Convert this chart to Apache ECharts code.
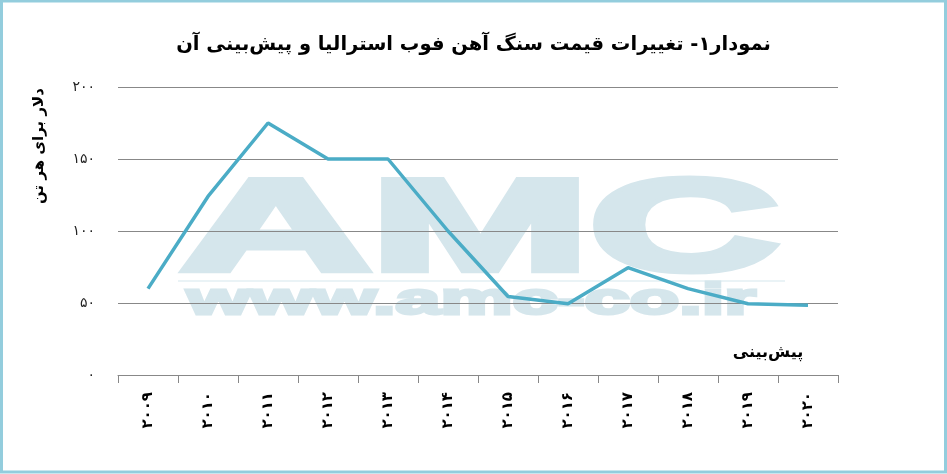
<!DOCTYPE html>
<html>
<head>
<meta charset="utf-8">
<script src="https://cdn.jsdelivr.net/npm/echarts@6/dist/echarts.min.js"></script>
<style>html,body{margin:0;padding:0;background:#fff}#c{width:947px;height:474px}</style>
</head>
<body>
<div id="c"></div>
<script>
var years = ['۲۰۰۹','۲۰۱۰','۲۰۱۱','۲۰۱۲','۲۰۱۳','۲۰۱۴','۲۰۱۵','۲۰۱۶','۲۰۱۷','۲۰۱۸','۲۰۱۹','۲۰۲۰'];
var prices = [60, 124, 175, 150, 150, 100, 54.5, 49.5, 74.5, 60, 49.5, 48.5];
var yTickLabels = {0:'۰', 50:'۵۰', 100:'۱۰۰', 150:'۱۵۰', 200:'۲۰۰'};
var titleText = 'نمودار۱- تغییرات قیمت سنگ آهن فوب استرالیا و پیش‌بینی آن';
var yName = 'دلار برای هر تن';
var forecastText = 'پیش‌بینی';

var chart = echarts.init(document.getElementById('c'), null, {renderer:'canvas'});
var ff = 'DejaVu Sans';
chart.setOption({
  animation: false,
  backgroundColor: '#fff',
  title: {
    text: titleText, left: 'center', top: 30,
    textStyle: {fontFamily: ff, fontWeight: 'bold', fontSize: 19.5, color: '#000'}
  },
  grid: {left: 118, right: 109, top: 87, bottom: 99},
  xAxis: {
    type: 'category', data: years, boundaryGap: true,
    axisLine: {lineStyle: {color: '#888', width: 1}},
    axisTick: {show: true, length: 8, alignWithLabel: false, lineStyle: {color: '#888'}},
    axisLabel: {rotate: 90, margin: 17, fontFamily: ff, fontWeight: 'bold', fontSize: 15, color: '#000', interval: 0}
  },
  yAxis: {
    type: 'value', min: 0, max: 200, interval: 50,
    axisLine: {show: false}, axisTick: {show: false},
    splitLine: {lineStyle: {color: '#888', width: 1}},
    axisLabel: {margin: 23, fontFamily: ff, fontSize: 14, color: '#222',
      formatter: function(v){ return yTickLabels[v]; }}
  },
  series: [{
    type: 'line', data: prices, symbol: 'none', smooth: false, z: 5,
    lineStyle: {color: '#4bacc6', width: 3.5}
  }],
  graphic: [
    {type: 'rect', z: 100, shape: {x: 1.5, y: 1, width: 944, height: 471},
     style: {fill: 'none', stroke: '#93cddd', lineWidth: 3}},
    {type: 'text', z: -10, x: 181, y: 234, scaleX: 2.02, scaleY: 1,
     style: {text: 'AMC', x: 0, y: 0, align: 'left', verticalAlign: 'middle',
       fontFamily: 'Liberation Sans', fontWeight: 'bold', fontSize: 130,
       fill: '#d5e6ec', stroke: '#d5e6ec', lineWidth: 7}},
    {type: 'line', z: -10, shape: {x1: 178, y1: 281, x2: 785, y2: 281},
     style: {stroke: '#eaf3f6', lineWidth: 2}},
    {type: 'text', z: -10, x: 187, y: 302, scaleX: 1.8, scaleY: 1,
     style: {text: 'www.amc-co.ir', x: 0, y: 0, align: 'left', verticalAlign: 'middle',
       fontFamily: 'Liberation Sans', fontWeight: 'bold', fontSize: 45,
       fill: '#d5e6ec', stroke: '#d5e6ec', lineWidth: 3}},
    {type: 'text', z: 10, x: 39, y: 146, rotation: Math.PI / 2,
     style: {text: yName, align: 'center', verticalAlign: 'middle',
       fontFamily: ff, fontWeight: 'bold', fontSize: 15, fill: '#000'}},
    {type: 'text', z: 10, x: 768, y: 353,
     style: {text: forecastText, align: 'center', verticalAlign: 'middle',
       fontFamily: ff, fontWeight: 'bold', fontSize: 16, fill: '#000'}}
  ]
});
</script>
</body>
</html>
